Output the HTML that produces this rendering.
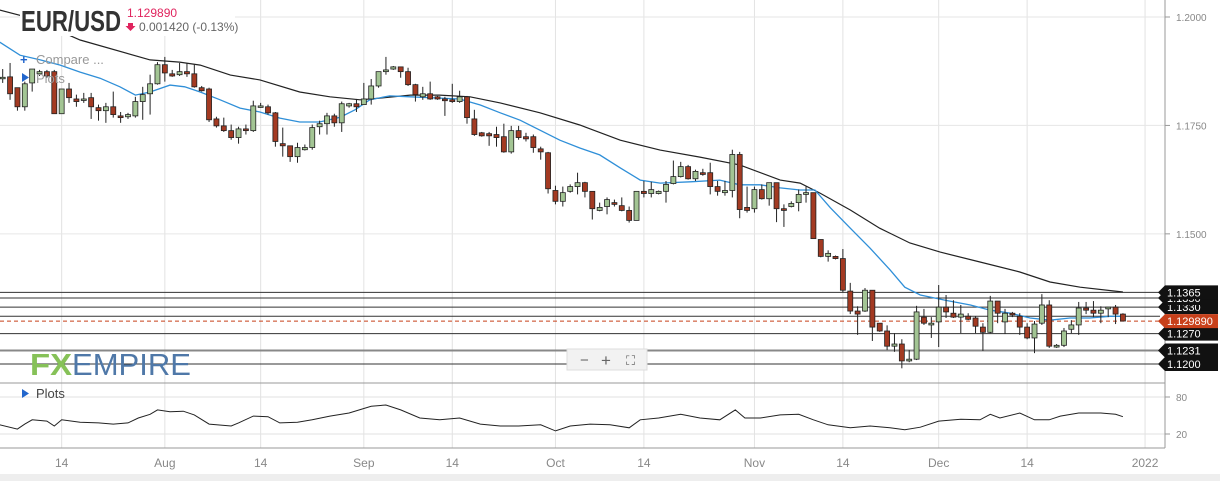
<!DOCTYPE html>
<html><head><meta charset="utf-8"><style>
html,body{margin:0;padding:0;background:#fff;overflow:hidden}
body{width:1220px;height:481px;position:relative;font-family:"Liberation Sans",sans-serif}
svg{position:absolute;left:0;top:0}
</style></head><body>
<svg id="chart" width="1220" height="481" viewBox="0 0 1220 481" xmlns="http://www.w3.org/2000/svg">
<rect x="0" y="0" width="1220" height="481" fill="#fff"/>
<g id="grid"></g>
<g id="levels"></g>
<g id="mas"></g>
<g id="candles"></g>
<g id="rsi"></g>
<g id="axes"></g>
<g id="labels"></g>
<rect x="0" y="474" width="1220" height="7" fill="#eeeeee"/>
<rect x="20" y="0" width="215" height="36" fill="#fff"/>
<text x="21" y="31" font-size="29" font-weight="bold" fill="#333" textLength="100" lengthAdjust="spacingAndGlyphs">EUR/USD</text>
<text x="127" y="17" font-size="12" fill="#e0245e">1.129890</text>
<path d="M128,23 h5 v3 h2.5 l-5,5 l-5,-5 h2.5z" fill="#e0245e"/>
<text x="139" y="31" font-size="12" fill="#666">0.001420 (-0.13%)</text>
<text x="20" y="64" font-size="13" font-weight="bold" fill="#2266cc">+</text>
<text x="36" y="64" font-size="13" fill="#999">Compare ...</text>
<path d="M22,73 l7,4.5 l-7,4.5z" fill="#2266cc"/>
<text x="36" y="83" font-size="13" fill="#999">Plots</text>
<path d="M22,389 l7,4.5 l-7,4.5z" fill="#2266cc"/>
<text x="36" y="398" font-size="13" fill="#444">Plots</text>
<text x="30" y="375" font-size="31" font-weight="bold" fill="#86c158" textLength="42" lengthAdjust="spacingAndGlyphs">FX</text>
<text x="72" y="375" font-size="31" fill="#4f78a8" textLength="119" lengthAdjust="spacingAndGlyphs">EMPIRE</text>
<g>
<rect x="567" y="349" width="80" height="21" fill="#f2f2f2" stroke="#ddd"/>
<text x="580" y="365" font-size="15" fill="#666">−</text>
<text x="601" y="366" font-size="17" fill="#666">+</text>
<text x="626" y="365" font-size="13" fill="#666">⛶</text>
</g>
</svg>
<script>
// candle data [open, high, low, close]
const candleOpen=[1.1858,1.1862,1.1837,1.1793,1.1848,1.1869,1.1874,1.1874,1.1777,1.1834,1.1811,1.1809,1.1814,1.1791,1.1784,1.1793,1.1772,1.1770,1.1772,1.1805,1.1823,1.1846,1.1890,1.1869,1.1867,1.1874,1.1869,1.1837,1.1834,1.1765,1.1749,1.1738,1.1722,1.1742,1.1738,1.1793,1.1793,1.1779,1.1708,1.1703,1.1678,1.1694,1.1699,1.1747,1.1754,1.1772,1.1756,1.1795,1.1800,1.1798,1.1811,1.1841,1.1874,1.1880,1.1885,1.1874,1.1844,1.1816,1.1823,1.1816,1.1811,1.1809,1.1805,1.1816,1.1765,1.1733,1.1731,1.1729,1.1724,1.1689,1.1738,1.1724,1.1724,1.1696,1.1687,1.1600,1.1575,1.1598,1.1609,1.1618,1.1598,1.1554,1.1563,1.1572,1.1565,1.1554,1.1531,1.1598,1.1593,1.1593,1.1598,1.1616,1.1632,1.1655,1.1627,1.1641,1.1641,1.1609,1.1595,1.1600,1.1683,1.1561,1.1558,1.1602,1.1581,1.1618,1.1558,1.1563,1.1572,1.1591,1.1595,1.1487,1.1448,1.1448,1.1443,1.1368,1.1322,1.1322,1.1370,1.1294,1.1276,1.1241,1.1246,1.1207,1.1211,1.1308,1.1290,1.1297,1.1331,1.1317,1.1308,1.1310,1.1306,1.1285,1.1273,1.1345,1.1297,1.1317,1.1310,1.1285,1.1260,1.1294,1.1336,1.1239,1.1243,1.1280,1.1290,1.1329,1.1324,1.1317,1.1327,1.1331,1.1315];
const candleHigh=[1.1880,1.1894,1.1837,1.1851,1.1880,1.1878,1.1878,1.1878,1.1834,1.1848,1.1821,1.1825,1.1825,1.1798,1.1802,1.1828,1.1781,1.1779,1.1816,1.1839,1.1867,1.1896,1.1908,1.1878,1.1894,1.1894,1.1890,1.1841,1.1837,1.1770,1.1768,1.1752,1.1747,1.1752,1.1807,1.1802,1.1798,1.1781,1.1745,1.1703,1.1710,1.1706,1.1752,1.1761,1.1779,1.1777,1.1805,1.1802,1.1811,1.1848,1.1857,1.1874,1.1908,1.1887,1.1885,1.1883,1.1846,1.1839,1.1851,1.1818,1.1816,1.1846,1.1830,1.1818,1.1786,1.1735,1.1735,1.1747,1.1754,1.1749,1.1749,1.1733,1.1729,1.1701,1.1689,1.1611,1.1609,1.1614,1.1641,1.1620,1.1598,1.1572,1.1584,1.1579,1.1584,1.1563,1.1598,1.1622,1.1620,1.1600,1.1622,1.1669,1.1666,1.1659,1.1648,1.1650,1.1664,1.1622,1.1622,1.1694,1.1689,1.1609,1.1609,1.1614,1.1618,1.1618,1.1568,1.1575,1.1602,1.1609,1.1595,1.1487,1.1462,1.1450,1.1465,1.1387,1.1333,1.1375,1.1370,1.1294,1.1289,1.1271,1.1257,1.1232,1.1334,1.1327,1.1308,1.1382,1.1359,1.1347,1.1336,1.1317,1.1310,1.1294,1.1357,1.1345,1.1327,1.1320,1.1317,1.1294,1.1299,1.1361,1.1347,1.1246,1.1283,1.1301,1.1343,1.1343,1.1345,1.1333,1.1331,1.1336,1.1317];
const candleLow=[1.1848,1.1809,1.1784,1.1784,1.1828,1.1864,1.1860,1.1777,1.1777,1.1802,1.1793,1.1802,1.1765,1.1761,1.1756,1.1768,1.1756,1.1765,1.1768,1.1763,1.1775,1.1844,1.1851,1.1862,1.1864,1.1862,1.1837,1.1828,1.1758,1.1745,1.1735,1.1717,1.1708,1.1729,1.1735,1.1791,1.1775,1.1701,1.1678,1.1666,1.1664,1.1692,1.1694,1.1729,1.1729,1.1747,1.1735,1.1791,1.1781,1.1798,1.1798,1.1837,1.1867,1.1878,1.1860,1.1841,1.1805,1.1809,1.1809,1.1809,1.1772,1.1802,1.1802,1.1754,1.1726,1.1724,1.1703,1.1701,1.1687,1.1685,1.1717,1.1713,1.1687,1.1671,1.1593,1.1568,1.1563,1.1595,1.1591,1.1584,1.1533,1.1552,1.1545,1.1563,1.1552,1.1526,1.1531,1.1584,1.1584,1.1591,1.1572,1.1614,1.1630,1.1625,1.1622,1.1634,1.1591,1.1588,1.1588,1.1584,1.1536,1.1549,1.1549,1.1579,1.1565,1.1527,1.1516,1.1561,1.1552,1.1572,1.1489,1.1446,1.1436,1.1441,1.1365,1.1315,1.1267,1.1320,1.1253,1.1274,1.1232,1.1228,1.1190,1.1204,1.1209,1.1290,1.1260,1.1239,1.1306,1.1306,1.1271,1.1301,1.1271,1.1230,1.1271,1.1294,1.1269,1.1308,1.1267,1.1257,1.1225,1.1290,1.1237,1.1237,1.1239,1.1271,1.1267,1.1315,1.1308,1.1294,1.1308,1.1292,1.1298];
const candleClose=[1.1861,1.1823,1.1793,1.1846,1.1880,1.1874,1.1864,1.1777,1.1834,1.1814,1.1805,1.1811,1.1793,1.1784,1.1793,1.1775,1.1768,1.1775,1.1805,1.1821,1.1846,1.1890,1.1871,1.1864,1.1874,1.1869,1.1839,1.1830,1.1763,1.1749,1.1738,1.1722,1.1742,1.1738,1.1795,1.1795,1.1779,1.1713,1.1703,1.1678,1.1699,1.1699,1.1745,1.1754,1.1772,1.1756,1.1800,1.1800,1.1793,1.1811,1.1841,1.1874,1.1878,1.1885,1.1874,1.1844,1.1821,1.1823,1.1811,1.1811,1.1807,1.1805,1.1816,1.1768,1.1729,1.1726,1.1726,1.1722,1.1689,1.1738,1.1722,1.1719,1.1699,1.1689,1.1604,1.1575,1.1595,1.1609,1.1618,1.1598,1.1558,1.1561,1.1579,1.1568,1.1554,1.1531,1.1598,1.1593,1.1602,1.1598,1.1614,1.1632,1.1655,1.1627,1.1644,1.1637,1.1609,1.1598,1.1600,1.1683,1.1556,1.1554,1.1602,1.1581,1.1618,1.1558,1.1554,1.1570,1.1591,1.1595,1.1489,1.1448,1.1455,1.1443,1.1370,1.1322,1.1315,1.1370,1.1285,1.1276,1.1241,1.1246,1.1207,1.1211,1.1320,1.1294,1.1294,1.1331,1.1320,1.1308,1.1315,1.1303,1.1287,1.1273,1.1345,1.1317,1.1317,1.1313,1.1285,1.1260,1.1292,1.1336,1.1241,1.1243,1.1276,1.1290,1.1329,1.1324,1.1317,1.1324,1.1331,1.1315,1.1299];
// moving averages: [candle index, price]
const maFastIdx=[-0.4,2.35,5.1,7.8,10.5,13.2,15.9,18,20,22.7,24.7,26.8,29.5,32.2,34.9,37.6,40.3,43,45.8,47.8,49.8,52.5,55.3,59.3,62,64.8,67.5,70.2,72.9,75.6,78.3,81,83.8,86.5,89.2,93.3,97.3,100,102.8,105.5,108.2,110.2,112.3,115,117.7,120.4,122.4,124.5,127.9,131.3,134,136.7,139.4,142.1,144.8,147.5,150.2,152];
const maFastVal=[1.1942,1.1912,1.1901,1.1889,1.1873,1.1859,1.1839,1.1820,1.1827,1.1843,1.1839,1.1827,1.1809,1.1790,1.1781,1.1767,1.1758,1.1758,1.1769,1.1786,1.1809,1.1818,1.1816,1.1813,1.1811,1.1797,1.1779,1.1762,1.1739,1.1716,1.1698,1.1682,1.1652,1.1624,1.1617,1.1620,1.1624,1.1613,1.1613,1.1606,1.1601,1.1601,1.1560,1.1513,1.1467,1.1417,1.1377,1.1359,1.1347,1.1336,1.1324,1.1317,1.1306,1.1301,1.1306,1.1306,1.1310,1.1310];
const maSlowIdx=[-0.4,3.7,10.5,20,24,26.8,30.9,34.9,40.3,44.4,48.5,51.2,55.3,59.3,63.4,67.5,72.9,78.3,83.8,89.2,94.6,100,105.5,108.2,110.9,115,119,123.1,127.2,132.6,138,142.1,146.2,152];
const maSlowVal=[1.2016,1.1998,1.1947,1.1901,1.1896,1.1889,1.1866,1.1855,1.1827,1.1816,1.1809,1.1813,1.1820,1.1820,1.1816,1.1802,1.1779,1.1751,1.1716,1.1693,1.1677,1.1659,1.1624,1.1617,1.1594,1.1555,1.1513,1.1479,1.1458,1.1435,1.1412,1.1389,1.1377,1.1366];
// oscillator
const oscIdx=[-0.4,2,3,4,6,7,8,10.5,13,15,17,18.4,20,21,22.7,24.5,26,28,31,32,34,36,37.6,40,42,44.4,47,50,52,54,56.6,59.3,62,64.8,67.5,70,73,75,77,79.7,82.4,85,86.5,89,92,94.6,97.3,99.4,100.7,102.8,105.5,108,110,112,115,117.7,120.4,122.4,124.5,127,130,132.6,134,135.3,138,140,142,143.5,146,149,151,152];
const oscVal=[35,28,36,43,41,33,43,39,38,36,38,46,52,59,56,57,51,36,33,38,49,48,38,39,43,49,54,65,67,59,46,43,46,36,33,33,35,25,33,36,35,30,43,46,52,46,43,59,46,46,51,52,43,35,30,33,30,27,31,41,44,43,52,46,54,43,43,49,54,54,52,48];
// levels
const levelVals=[1.1365,1.1352,1.1331,1.1310,1.1270,1.1231,1.1200];
const levelLabels=["1.1365","1.1350","1.1330","1.1310","1.1270","1.1231","1.1200"];
const lastPrice=1.12989;
const lastLabel="1.129890";
const priceTicks=[1.2000,1.1750,1.1500];
const priceTickLabels=["1.2000","1.1750","1.1500"];
const oscTicks=[80,20];
const dateTickIdx=[8,22,35,49,61,75,87,102,114,127,139,155];
const dateTickLabels=["14","Aug","14","Sep","14","Oct","14","Nov","14","Dec","14","2022"];

const NS="http://www.w3.org/2000/svg";
const X0=2.7, DX=7.37, PLOT_R=1165;
function xs(i){return X0+DX*i;}
function ys(p){return 17+(1.2-p)*4337;}
function yo(v){return 397+(80-v)*37/60;}
function mk(tag,attrs,parent){const e=document.createElementNS(NS,tag);for(const k in attrs)e.setAttribute(k,attrs[k]);parent.appendChild(e);return e;}
const grid=document.getElementById('grid'),levels=document.getElementById('levels'),mas=document.getElementById('mas'),cg=document.getElementById('candles'),rg=document.getElementById('rsi'),ax=document.getElementById('axes'),lb=document.getElementById('labels');

dateTickIdx.forEach((d,k)=>{
  const x=xs(d);
  const l=mk('line',{x1:x,x2:x,y1:0,y2:448,stroke:'#e2e2e2','stroke-width':1},grid);
  
  
  const t=mk('text',{x:x,y:467,'font-size':12,fill:'#888','text-anchor':'middle'},ax);
  t.textContent=dateTickLabels[k];
  
  
});
priceTicks.forEach((p,k)=>{
  const y=ys(p);
  const l=mk('line',{x1:0,x2:PLOT_R,y1:y,y2:y,stroke:'#e6e6e6'},grid);
  
  
  mk('line',{x1:PLOT_R,x2:PLOT_R+5,y1:y,y2:y,stroke:'#999'},ax);
  const t=mk('text',{x:1176,y:y+4,'font-size':10,fill:'#888'},ax);
  t.textContent=priceTickLabels[k];
  
  
});
[383,448].forEach(y=>{const l=mk('line',{x1:0,x2:PLOT_R,y1:y,y2:y,stroke:'#999'},grid);});
oscTicks.forEach(v=>{
  const y=yo(v);
  const l=mk('line',{x1:0,x2:PLOT_R,y1:y,y2:y,stroke:'#e2e2e2'},grid);
  
  
  mk('line',{x1:PLOT_R,x2:PLOT_R+5,y1:y,y2:y,stroke:'#999'},ax);
  const t=mk('text',{x:1176,y:y+4,'font-size':10,fill:'#888'},ax);
  t.textContent=String(v);
  
  
});
const axl=mk('line',{x1:PLOT_R,x2:PLOT_R,y1:0,y2:448,stroke:'#999'},ax);



levelVals.forEach((p,k)=>{
  const y=ys(p);
  const l=mk('line',{x1:0,x2:1160,y1:y,y2:y,stroke:k==5?'#888':'#333','stroke-width':k==5?2:1},levels);
  
  
});
const dl=mk('line',{x1:0,x2:1160,y1:ys(lastPrice),y2:ys(lastPrice),stroke:'#c8401a','stroke-dasharray':'4,3'},levels);



function pathOf(ix,vals){return ix.map((d,k)=>(k?'L':'M')+xs(d).toFixed(1)+','+ys(vals[k]).toFixed(1)).join(' ');}
const ms=mk('path',{d:pathOf(maSlowIdx,maSlowVal),fill:'none',stroke:'#222','stroke-width':1.2},mas);


const mf=mk('path',{d:pathOf(maFastIdx,maFastVal),fill:'none',stroke:'#2f8fd8','stroke-width':1.3},mas);



candleOpen.forEach((o,i)=>{
  const c=candleClose[i],h=candleHigh[i],l=candleLow[i],x=xs(i);
  const up=c>=o;
  const w=mk('line',{x1:x,x2:x,y1:ys(h),y2:ys(l),stroke:'#222','stroke-width':1},cg);
  
  
  const yt=ys(Math.max(o,c)),yb=ys(Math.min(o,c));
  const b=mk('rect',{x:x-2.5,y:yt,width:5,height:Math.max(1.5,yb-yt),fill:up?'#a3c594':'#a33a22',stroke:'#222','stroke-width':0.8},cg);
  
  
});

const op=mk('path',{d:oscIdx.map((d,k)=>(k?'L':'M')+xs(d).toFixed(1)+','+yo(oscVal[k]).toFixed(1)).join(' '),fill:'none',stroke:'#222','stroke-width':1},rg);



function tag(y,text,bg,name){
  const g=mk('g',{},lb);
  
  
  mk('path',{d:`M1158,${y} L1165,${y-7} H1218 V${y+7} H1165 Z`,fill:bg},g);
  const t=mk('text',{x:1167,y:y+4,'font-size':11,fill:'#fff'},g);
  t.textContent=text;
}
[2,1].forEach(k=>tag(ys(levelVals[k]),levelLabels[k],'#111','level-label'));
tag(ys(levelVals[0]),levelLabels[0],'#111','level-label');
tag(ys(levelVals[4]),levelLabels[4],'#111','level-label');
tag(ys(levelVals[5]),levelLabels[5],'#111','level-label');
tag(ys(levelVals[6]),levelLabels[6],'#111','level-label');
tag(ys(lastPrice),lastLabel,'#c8401a','last-price-label');
</script>
</body></html>
